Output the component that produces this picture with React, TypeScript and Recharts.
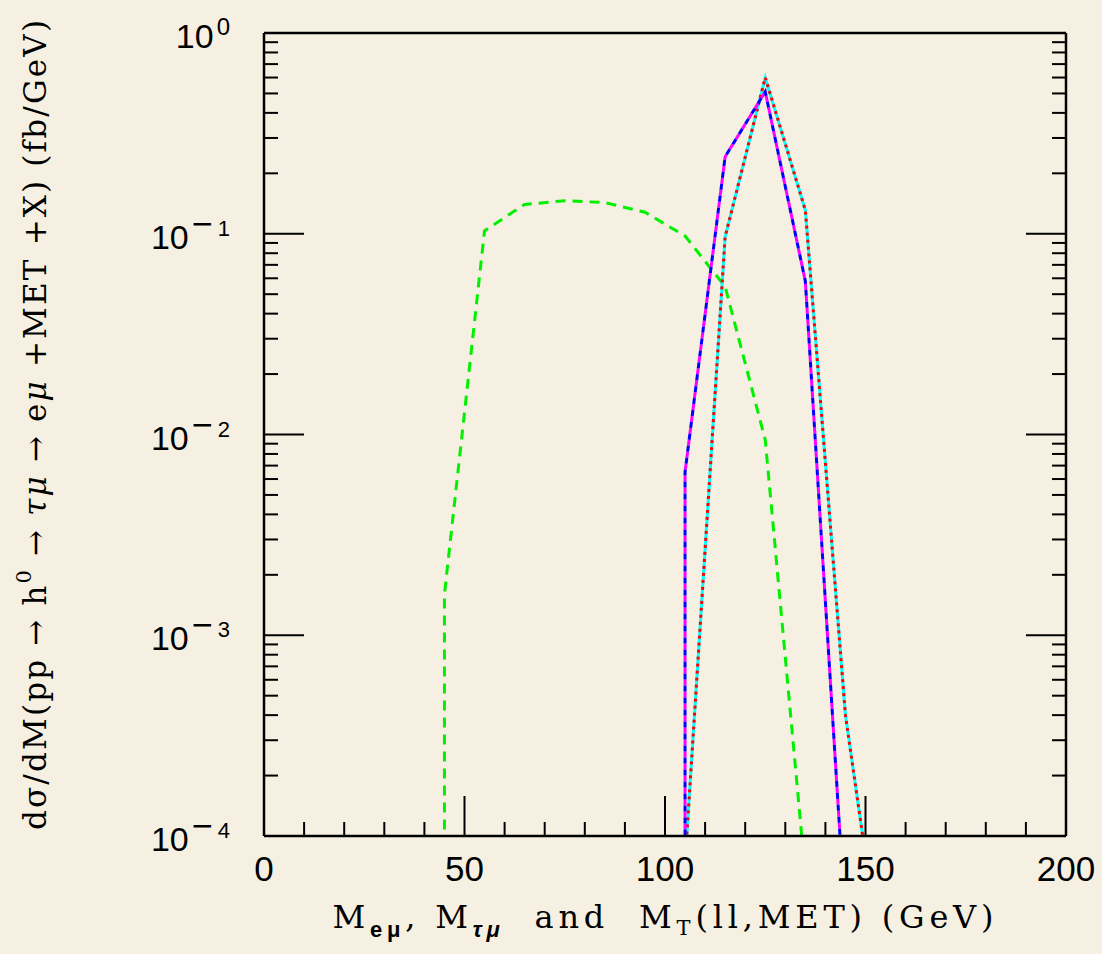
import React from "react";
import { LineChart, Line, XAxis, YAxis } from "recharts";

// invariant masses (GeV) and dσ/dM values (fb/GeV)
const greenMass = [45, 45, 55, 65, 75, 85, 95, 105, 115, 125, 135];
const greenVal = [1e-6, 1.6e-3, 0.1035, 0.14, 0.146, 0.143, 0.128, 0.0975, 0.0545, 0.0094, 6.4e-5];

const cyanMass = [105, 115, 125, 135, 145, 155];
const cyanVal = [7.4e-5, 0.0967, 0.597, 0.131, 4e-4, 1.6e-5];

const redMass = [105, 115, 125, 135, 145, 155];
const redVal = [7.4e-5, 0.0967, 0.6, 0.131, 4e-4, 1.6e-5];

const blueMass = [105, 105, 115, 125, 135, 145];
const blueVal = [1e-6, 6.5e-3, 0.242, 0.51, 0.058, 3.7e-5];

const magentaMass = [105, 105, 115, 125, 135, 145];
const magentaVal = [1e-6, 6.5e-3, 0.242, 0.51, 0.058, 3.7e-5];

const xTicks = [0, 10, 20, 30, 40, 50, 60, 70, 80, 90, 100, 110, 120, 130, 140, 150, 160, 170, 180, 190, 200];
const xLabels = [0, 50, 100, 150, 200];
const decades = [1e-4, 1e-3, 1e-2, 1e-1, 1];
const decadeExp = ["4", "3", "2", "1", "0"];
const minorSteps = [2, 3, 4, 5, 6, 7, 8, 9];

const yTicks = [
  ...decades,
  ...decades.slice(0, -1).flatMap((d) => minorSteps.map((m) => m * d)),
].sort((a, b) => a - b);

const zip = (ms: number[], vs: number[]) => ms.map((m, i) => ({ m, v: vs[i] }));

const BG = "#f5f0e1";
const SANS = "Liberation Sans, Arial, sans-serif";
const SERIF = "DejaVu Serif, serif";

const BottomTick = (props: any) => {
  const { x, y, payload } = props;
  const major = xLabels.includes(payload.value);
  return (
    <g>
      <line x1={x} y1={y} x2={x} y2={y - (major ? 40 : 14)} stroke="#000" strokeWidth={2} />
      {major && (
        <text x={x} y={y + 45} textAnchor="middle" fontFamily={SANS} fontSize={35} fill="#000">
          {payload.value}
        </text>
      )}
    </g>
  );
};

const TopTick = (props: any) => {
  const { x, y, payload } = props;
  const major = xLabels.includes(payload.value);
  return <line x1={x} y1={y} x2={x} y2={y + (major ? 40 : 14)} stroke="#000" strokeWidth={2} />;
};

const LeftTick = (props: any) => {
  const { x, y, payload } = props;
  const idx = decades.indexOf(payload.value);
  const major = idx >= 0;
  const exp = decadeExp[idx];
  return (
    <g>
      <line x1={x} y1={y} x2={x + (major ? 40 : 14)} y2={y} stroke="#000" strokeWidth={2} />
      {major && (
        <text x={x - 34} y={y + 15} textAnchor="end" fontFamily={SANS} fontSize={34} fill="#000">
          10
          {exp === "0" ? (
            <tspan dx={3} dy={-13} fontSize={24}>0</tspan>
          ) : (
            <>
              <tspan dx={3} dy={-13} fontSize={36}>−</tspan>
              <tspan dx={5} fontSize={22}>{exp}</tspan>
            </>
          )}
        </text>
      )}
    </g>
  );
};

const RightTick = (props: any) => {
  const { x, y, payload } = props;
  const major = decades.includes(payload.value);
  return <line x1={x} y1={y} x2={x - (major ? 40 : 14)} y2={y} stroke="#000" strokeWidth={2} />;
};

export default function App() {
  const axisLine = { stroke: "#000", strokeWidth: 2.5 };
  return (
    <div style={{ position: "absolute", left: 0, top: 0, width: 1102, height: 954, background: BG }}>
      <LineChart width={1102} height={954} margin={{ top: 23, right: 26, bottom: 88, left: 204 }}>
        <XAxis
          dataKey="m"
          type="number"
          domain={[0, 200]}
          ticks={xTicks}
          interval={0}
          tickSize={0}
          tickMargin={0}
          tickLine={false}
          axisLine={axisLine}
          tick={BottomTick}
          height={30}
        />
        <XAxis
          xAxisId="top"
          orientation="top"
          dataKey="m"
          type="number"
          domain={[0, 200]}
          ticks={xTicks}
          interval={0}
          tickSize={0}
          tickMargin={0}
          tickLine={false}
          axisLine={axisLine}
          tick={TopTick}
          height={10}
        />
        <YAxis
          scale="log"
          domain={[1e-4, 1]}
          allowDataOverflow
          ticks={yTicks}
          interval={0}
          tickSize={0}
          tickMargin={0}
          tickLine={false}
          axisLine={axisLine}
          tick={LeftTick}
          width={60}
        />
        <YAxis
          yAxisId="right"
          orientation="right"
          scale="log"
          domain={[1e-4, 1]}
          allowDataOverflow
          ticks={yTicks}
          interval={0}
          tickSize={0}
          tickMargin={0}
          tickLine={false}
          axisLine={axisLine}
          tick={RightTick}
          width={10}
        />
        <Line data={zip(greenMass, greenVal)} dataKey="v" type="linear" stroke="#00f000" strokeWidth={3} strokeDasharray="10 7" dot={false} activeDot={false} isAnimationActive={false} />
        <Line data={zip(cyanMass, cyanVal)} dataKey="v" type="linear" stroke="#00ffff" strokeWidth={3} dot={false} activeDot={false} isAnimationActive={false} />
        <Line data={zip(redMass, redVal)} dataKey="v" type="linear" stroke="#ff0000" strokeWidth={3} strokeDasharray="3 4" dot={false} activeDot={false} isAnimationActive={false} />
        <Line data={zip(magentaMass, magentaVal)} dataKey="v" type="linear" stroke="#ff00ff" strokeWidth={3} strokeDasharray="6 6" dot={false} activeDot={false} isAnimationActive={false} />
        <Line data={zip(blueMass, blueVal)} dataKey="v" type="linear" stroke="#0000ff" strokeWidth={3} strokeDasharray="6 6" strokeDashoffset={6} dot={false} activeDot={false} isAnimationActive={false} />
        <text x={663} y={928} textAnchor="middle" fontFamily={SERIF} fontSize={32} fill="#000" textLength={661} lengthAdjust="spacing" style={{ whiteSpace: "pre" }}>
          M
          <tspan dy={9} fontSize={22} fontFamily={SANS} fontWeight="bold">eμ</tspan>
          <tspan dy={-9}>{", M"}</tspan>
          <tspan dy={9} fontSize={22} fontFamily={SANS} fontWeight="bold" fontStyle="italic">τμ</tspan>
          <tspan dy={-9}>{"  and  M"}</tspan>
          <tspan dy={7} fontSize={21}>T</tspan>
          <tspan dy={-7}>{"(ll,MET) (GeV)"}</tspan>
        </text>
        <text transform="translate(46,425) rotate(-90)" textAnchor="middle" fontFamily={SERIF} fontSize={31} fill="#000" textLength={810} lengthAdjust="spacing" style={{ whiteSpace: "pre" }}>
          {"dσ/dM(pp → h"}
          <tspan dy={-15} fontSize={21}>0</tspan>
          <tspan dy={15}>{" → "}</tspan>
          <tspan fontStyle="italic">τμ</tspan>
          {" → e"}
          <tspan fontStyle="italic">μ</tspan>
          {" +MET +X) (fb/GeV)"}
        </text>
      </LineChart>
    </div>
  );
}
